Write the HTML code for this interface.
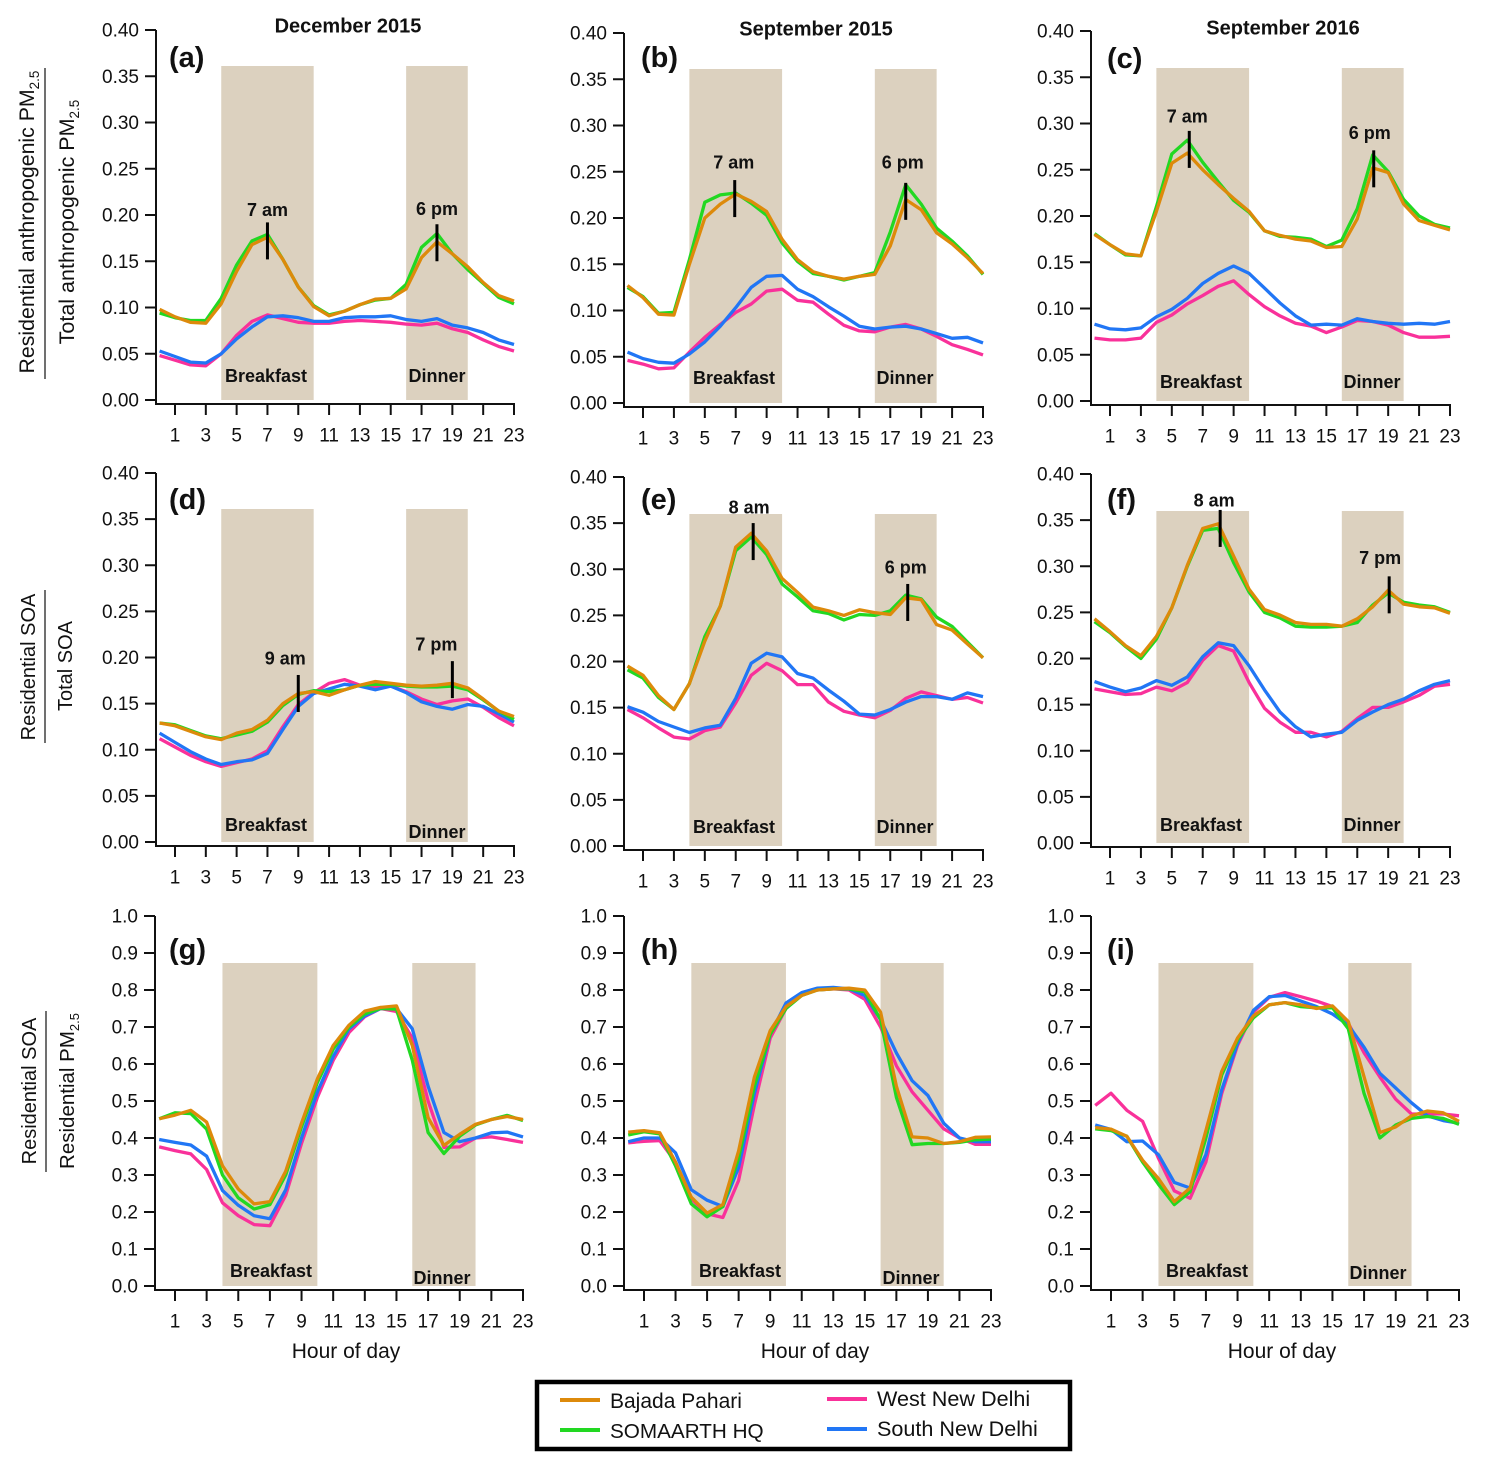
<!DOCTYPE html>
<html lang="en">
<head>
<meta charset="utf-8">
<title>Diurnal residential PM2.5 and SOA fractions, Delhi</title>
<style>
html,body{margin:0;padding:0;background:#fff;}
#chart{display:block;width:1487px;height:1470px;font-family:"Liberation Sans",sans-serif;fill:#111;}
</style>
</head>
<body>
<svg id="chart" xmlns="http://www.w3.org/2000/svg" width="1487" height="1470" viewBox="0 0 1487 1470">
  <g>
    <text transform="translate(34,222) rotate(-90)" text-anchor="middle" font-size="21.3">Residential anthropogenic PM<tspan font-size="13.5" dy="5">2.5</tspan></text>
    <line x1="45" x2="45" y1="68" y2="379" stroke="#111" stroke-width="1.2"/>
    <text transform="translate(74,222) rotate(-90)" text-anchor="middle" font-size="21.5">Total anthropogenic PM<tspan font-size="13.5" dy="5">2.5</tspan></text>
  </g>
  <g>
    <text transform="translate(35,667) rotate(-90)" text-anchor="middle" font-size="20">Residential SOA</text>
    <line x1="45" x2="45" y1="590" y2="743" stroke="#111" stroke-width="1.2"/>
    <text transform="translate(72,666) rotate(-90)" text-anchor="middle" font-size="20">Total SOA</text>
  </g>
  <g>
    <text transform="translate(36,1091) rotate(-90)" text-anchor="middle" font-size="20">Residential SOA</text>
    <line x1="46" x2="46" y1="1011" y2="1172" stroke="#111" stroke-width="1.2"/>
    <text transform="translate(74,1091) rotate(-90)" text-anchor="middle" font-size="20.5">Residential PM<tspan font-size="13" dy="5">2.5</tspan></text>
  </g>
  <text x="348" y="32.5" text-anchor="middle" font-size="20" font-weight="bold">December 2015</text>
  <text x="816" y="35.5" text-anchor="middle" font-size="20" font-weight="bold">September 2015</text>
  <text x="1283" y="34.5" text-anchor="middle" font-size="20" font-weight="bold">September 2016</text>
  <text x="346" y="1358" text-anchor="middle" font-size="21">Hour of day</text>
  <text x="815" y="1358" text-anchor="middle" font-size="21">Hour of day</text>
  <text x="1282" y="1358" text-anchor="middle" font-size="21">Hour of day</text>
  <g>
    <rect x="537" y="1382" width="533" height="67" fill="#fff" stroke="#000" stroke-width="4.5"/>
    <line x1="560" x2="600" y1="1400" y2="1400" stroke="#DD8A0B" stroke-width="4"/>
    <text x="610" y="1408" font-size="21">Bajada Pahari</text>
    <line x1="560" x2="600" y1="1430" y2="1430" stroke="#22D822" stroke-width="4"/>
    <text x="610" y="1438" font-size="20.7">SOMAARTH HQ</text>
    <line x1="827" x2="867" y1="1399" y2="1399" stroke="#F9319A" stroke-width="4"/>
    <text x="877" y="1406" font-size="21.6">West New Delhi</text>
    <line x1="827" x2="867" y1="1429" y2="1429" stroke="#2176F5" stroke-width="4"/>
    <text x="877" y="1436" font-size="21.6">South New Delhi</text>
  </g>
  <g id="panels"></g>
</svg>
<script>
// Shared axis data
const hours = [0,1,2,3,4,5,6,7,8,9,10,11,12,13,14,15,16,17,18,19,20,21,22,23];
const xTickHours = [1,3,5,7,9,11,13,15,17,19,21,23];
const fractionTicks = ['0.00','0.05','0.10','0.15','0.20','0.25','0.30','0.35','0.40'];
const ratioTicks = ['0.0','0.1','0.2','0.3','0.4','0.5','0.6','0.7','0.8','0.9','1.0'];
const breakfastWindow = [4,10];
const dinnerWindow = [16,20];

// Panel (a)
const aBajada = [.098,.090,.084,.083,.104,.139,.168,.176,.152,.122,.101,.091,.096,.103,.109,.110,.120,.154,.171,.158,.144,.127,.113,.107];
const aSomaarth = [.094,.089,.086,.086,.110,.146,.172,.179,.152,.122,.102,.092,.096,.103,.108,.110,.125,.165,.180,.158,.141,.126,.111,.104];
const aWest = [.048,.043,.038,.037,.050,.070,.085,.092,.088,.084,.083,.083,.085,.086,.085,.084,.082,.081,.083,.077,.073,.065,.058,.053];
const aSouth = [.053,.047,.041,.040,.050,.066,.079,.090,.091,.089,.085,.085,.089,.090,.090,.091,.087,.085,.088,.081,.078,.073,.065,.060];
// Panel (b)
const bBajada = [.127,.114,.096,.095,.150,.200,.215,.226,.218,.207,.177,.155,.142,.137,.134,.137,.139,.170,.220,.209,.184,.172,.157,.140];
const bSomaarth = [.125,.115,.097,.098,.155,.217,.225,.227,.216,.203,.173,.153,.140,.137,.133,.137,.141,.185,.236,.215,.189,.175,.159,.139];
const bWest = [.046,.042,.037,.038,.055,.071,.085,.098,.107,.121,.123,.111,.109,.096,.084,.078,.077,.082,.085,.080,.072,.063,.058,.052];
const bSouth = [.055,.048,.044,.043,.053,.066,.083,.103,.125,.137,.138,.123,.115,.104,.094,.083,.080,.082,.083,.080,.075,.070,.071,.065];
// Panel (c)
const cBajada = [.180,.169,.159,.157,.205,.257,.268,.250,.234,.219,.205,.184,.179,.175,.173,.166,.167,.197,.252,.247,.213,.195,.190,.185];
const cSomaarth = [.181,.169,.158,.157,.210,.267,.282,.258,.237,.217,.204,.184,.178,.177,.175,.167,.174,.208,.266,.248,.218,.200,.191,.187];
const cWest = [.068,.066,.066,.068,.085,.093,.105,.114,.124,.130,.115,.102,.092,.084,.081,.074,.080,.087,.086,.082,.074,.069,.069,.070];
const cSouth = [.083,.078,.077,.079,.091,.099,.111,.127,.138,.146,.138,.122,.106,.092,.082,.083,.082,.089,.086,.084,.083,.084,.083,.086];
// Panel (d)
const dBajada = [.129,.126,.120,.114,.111,.118,.122,.132,.150,.161,.163,.159,.165,.170,.174,.172,.170,.169,.170,.172,.167,.155,.142,.136];
const dSomaarth = [.129,.127,.121,.115,.112,.116,.120,.130,.148,.160,.164,.163,.165,.170,.171,.171,.169,.168,.168,.169,.165,.154,.142,.133];
const dWest = [.112,.103,.094,.087,.082,.086,.090,.099,.125,.149,.162,.172,.176,.170,.168,.169,.163,.155,.149,.153,.155,.146,.135,.126];
const dSouth = [.118,.108,.098,.090,.084,.087,.089,.096,.122,.147,.161,.166,.171,.169,.165,.169,.162,.152,.147,.144,.149,.147,.139,.130];
// Panel (e)
const eBajada = [.195,.185,.163,.148,.176,.222,.260,.324,.339,.320,.290,.275,.259,.255,.250,.256,.253,.251,.269,.267,.240,.234,.219,.204];
const eSomaarth = [.191,.182,.161,.148,.176,.227,.260,.320,.335,.316,.284,.270,.255,.252,.245,.251,.250,.255,.272,.268,.248,.238,.221,.204];
const eWest = [.148,.139,.128,.118,.116,.125,.129,.155,.185,.198,.190,.175,.175,.156,.146,.142,.139,.147,.160,.167,.163,.159,.161,.155];
const eSouth = [.151,.145,.135,.129,.123,.128,.131,.160,.198,.209,.205,.187,.182,.169,.157,.143,.142,.148,.156,.162,.162,.159,.166,.162];
// Panel (f)
const fBajada = [.243,.229,.214,.203,.224,.255,.301,.341,.346,.311,.275,.253,.247,.239,.237,.237,.235,.243,.256,.274,.259,.256,.255,.249];
const fSomaarth = [.240,.228,.213,.200,.221,.255,.300,.339,.341,.304,.272,.250,.244,.235,.234,.234,.235,.239,.258,.271,.261,.258,.256,.250];
const fWest = [.167,.164,.161,.162,.169,.165,.174,.198,.214,.208,.174,.146,.131,.120,.120,.115,.121,.135,.147,.147,.153,.160,.170,.172];
const fSouth = [.175,.169,.164,.168,.176,.171,.180,.202,.217,.214,.192,.166,.142,.126,.115,.118,.120,.133,.142,.150,.156,.165,.172,.176];
// Panel (g)
const gBajada = [.452,.462,.475,.443,.325,.262,.222,.228,.310,.440,.560,.650,.705,.743,.753,.757,.650,.455,.380,.410,.437,.450,.458,.450];
const gSomaarth = [.452,.468,.466,.424,.300,.238,.208,.220,.300,.430,.550,.640,.700,.735,.750,.748,.610,.415,.358,.405,.435,.450,.461,.447];
const gWest = [.376,.366,.357,.315,.225,.190,.166,.163,.245,.385,.510,.610,.685,.728,.750,.742,.670,.500,.375,.376,.400,.403,.396,.388];
const gSouth = [.396,.388,.381,.351,.258,.218,.190,.182,.260,.400,.525,.620,.695,.730,.750,.750,.695,.540,.415,.390,.400,.414,.416,.403];
// Panel (h)
const hBajada = [.416,.420,.414,.335,.240,.197,.220,.365,.565,.690,.755,.785,.800,.803,.805,.800,.740,.540,.403,.400,.385,.390,.402,.403];
const hSomaarth = [.408,.417,.411,.325,.222,.187,.215,.345,.540,.680,.750,.785,.800,.803,.803,.795,.720,.510,.382,.385,.385,.388,.395,.397];
const hWest = [.387,.391,.393,.335,.235,.195,.185,.285,.490,.670,.750,.790,.800,.803,.800,.775,.700,.595,.525,.475,.425,.400,.383,.383];
const hSouth = [.390,.400,.400,.360,.260,.232,.215,.320,.520,.680,.765,.793,.805,.807,.803,.785,.720,.630,.555,.515,.440,.400,.390,.390];
// Panel (i)
const iBajada = [.428,.424,.405,.340,.290,.228,.265,.420,.580,.670,.730,.760,.766,.760,.750,.757,.715,.565,.415,.430,.460,.473,.468,.445];
const iSomaarth = [.425,.420,.405,.335,.275,.220,.255,.400,.570,.665,.725,.760,.766,.755,.752,.752,.695,.520,.400,.435,.453,.458,.453,.437];
const iWest = [.488,.521,.475,.445,.345,.257,.237,.335,.520,.650,.740,.780,.793,.782,.770,.755,.710,.630,.565,.505,.465,.465,.465,.460];
const iSouth = [.435,.423,.390,.392,.355,.280,.265,.355,.530,.655,.745,.782,.785,.770,.755,.735,.705,.645,.575,.535,.495,.460,.447,.440];

// Peak annotations: hour, value at the middle of the marker, printed text
const aPeakHours = [7,18];
const aPeakValues = [.172,.170];
const aPeakTexts = ['7 am','6 pm'];
const bPeakHours = [7,18];
const bPeakValues = [.221,.218];
const bPeakTexts = ['7 am','6 pm'];
const cPeakHours = [6,18];
const cPeakValues = [.272,.251];
const cPeakTexts = ['7 am','6 pm'];
const dPeakHours = [9,19];
const dPeakValues = [.161,.176];
const dPeakTexts = ['9 am','7 pm'];
const ePeakHours = [8,18];
const ePeakValues = [.330,.264];
const ePeakTexts = ['8 am','6 pm'];
const fPeakHours = [8,19];
const fPeakValues = [.341,.269];
const fPeakTexts = ['8 am','7 pm'];

const seriesStyles = [
  {key:'west', slug:'west-new-delhi', color:'#F9319A'},
  {key:'south', slug:'south-new-delhi', color:'#2176F5'},
  {key:'somaarth', slug:'somaarth-hq', color:'#22D822'},
  {key:'bajada', slug:'bajada-pahari', color:'#DD8A0B'}
];

// Panel layout: pixel geometry of each axes frame
const panels = [
 {id:'a',x1:175,x23:514,left:156,yTop:30,yZero:400,yMax:.4,ticks:fractionTicks,axisY:404,labelY:441.5,shadeTop:66,lx:169,ly:67,bx:266,by:382,dx:437,dy:382,mdx:[0,0],tdx:[0,0],tdy:[-25,-28],west:aWest,south:aSouth,somaarth:aSomaarth,bajada:aBajada,ph:aPeakHours,pv:aPeakValues,pt:aPeakTexts},
 {id:'b',x1:643,x23:983,left:624,yTop:33,yZero:403,yMax:.4,ticks:fractionTicks,axisY:407,labelY:444.5,shadeTop:69,lx:641,ly:67,bx:734,by:384,dx:905,dy:384,mdx:[-1,0],tdx:[-2,-3],tdy:[-30,-33],west:bWest,south:bSouth,somaarth:bSomaarth,bajada:bBajada,ph:bPeakHours,pv:bPeakValues,pt:bPeakTexts},
 {id:'c',x1:1110,x23:1450,left:1091,yTop:31,yZero:401,yMax:.4,ticks:fractionTicks,axisY:405,labelY:442.5,shadeTop:68,lx:1107,ly:68,bx:1201,by:388,dx:1372,dy:388,mdx:[2,1],tdx:[0,-3],tdy:[-27,-30],west:cWest,south:cSouth,somaarth:cSomaarth,bajada:cBajada,ph:cPeakHours,pv:cPeakValues,pt:cPeakTexts},
 {id:'d',x1:175,x23:514,left:156,yTop:473,yZero:842,yMax:.4,ticks:fractionTicks,axisY:846,labelY:883.5,shadeTop:509,lx:169,ly:509,bx:266,by:831,dx:437,dy:838,mdx:[0,0],tdx:[-13,-16],tdy:[-29,-29],west:dWest,south:dSouth,somaarth:dSomaarth,bajada:dBajada,ph:dPeakHours,pv:dPeakValues,pt:dPeakTexts},
 {id:'e',x1:643,x23:983,left:624,yTop:477,yZero:846,yMax:.4,ticks:fractionTicks,axisY:850,labelY:887.5,shadeTop:514,lx:641,ly:509,bx:734,by:833,dx:905,dy:833,mdx:[2,2],tdx:[-2,0],tdy:[-28,-29],west:eWest,south:eSouth,somaarth:eSomaarth,bajada:eBajada,ph:ePeakHours,pv:ePeakValues,pt:ePeakTexts},
 {id:'f',x1:1110,x23:1450,left:1091,yTop:474,yZero:843,yMax:.4,ticks:fractionTicks,axisY:847,labelY:884.5,shadeTop:511,lx:1107,ly:509,bx:1201,by:831,dx:1372,dy:831,mdx:[2,1],tdx:[-4,-8],tdy:[-22,-31],west:fWest,south:fSouth,somaarth:fSomaarth,bajada:fBajada,ph:fPeakHours,pv:fPeakValues,pt:fPeakTexts},
 {id:'g',x1:175,x23:523,left:155,yTop:916,yZero:1286,yMax:1,ticks:ratioTicks,axisY:1290,labelY:1327.5,shadeTop:963,lx:169,ly:959,bx:271,by:1277,dx:442,dy:1284,west:gWest,south:gSouth,somaarth:gSomaarth,bajada:gBajada},
 {id:'h',x1:644,x23:991,left:624,yTop:916,yZero:1286,yMax:1,ticks:ratioTicks,axisY:1290,labelY:1327.5,shadeTop:963,lx:641,ly:959,bx:740,by:1277,dx:911,dy:1284,west:hWest,south:hSouth,somaarth:hSomaarth,bajada:hBajada},
 {id:'i',x1:1111,x23:1459,left:1091,yTop:916,yZero:1286,yMax:1,ticks:ratioTicks,axisY:1290,labelY:1327.5,shadeTop:963,lx:1107,ly:959,bx:1207,by:1277,dx:1378,dy:1279,west:iWest,south:iSouth,somaarth:iSomaarth,bajada:iBajada}
];

const NS = 'http://www.w3.org/2000/svg';
function make(tag, attrs, parent, txt){
  const n = document.createElementNS(NS, tag);
  for (const k in attrs) n.setAttribute(k, attrs[k]);
  if (txt !== undefined) n.textContent = txt;
  parent.appendChild(n);
  return n;
}

const root = document.getElementById('panels');
panels.forEach(function(p){
  const xScale = function(h){ return p.x1 + (h - 1) * (p.x23 - p.x1) / 22; };
  const yScale = function(v){ return p.yZero - v / p.yMax * (p.yZero - p.yTop); };

  const g = make('g', {}, root);
  
  

  // meal-time bands
  const bf = make('rect', {x:xScale(breakfastWindow[0]), y:p.shadeTop, width:xScale(breakfastWindow[1]) - xScale(breakfastWindow[0]), height:p.yZero - p.shadeTop, fill:'#DCD1BF'}, g);
  
  
  const dn = make('rect', {x:xScale(dinnerWindow[0]), y:p.shadeTop, width:xScale(dinnerWindow[1]) - xScale(dinnerWindow[0]), height:p.yZero - p.shadeTop, fill:'#DCD1BF'}, g);
  
  

  // axes
  const yAxis = make('line', {x1:p.left, x2:p.left, y1:p.yTop, y2:p.axisY + 1, stroke:'#111', 'stroke-width':2}, g);
  
  
  const xAxis = make('line', {x1:p.left, x2:p.x23 + 1, y1:p.axisY, y2:p.axisY, stroke:'#111', 'stroke-width':2}, g);
  
  

  p.ticks.forEach(function(label){
    const y = yScale(parseFloat(label));
    const t = make('line', {x1:p.left - 11, x2:p.left, y1:y, y2:y, stroke:'#111', 'stroke-width':2}, g);
    
    
    const l = make('text', {x:p.left - 17, y:y + 6.5, 'text-anchor':'end', 'font-size':19}, g, label);
    
    
  });
  xTickHours.forEach(function(h){
    const x = xScale(h);
    const t = make('line', {x1:x, x2:x, y1:p.axisY, y2:p.axisY + 11, stroke:'#111', 'stroke-width':2}, g);
    
    
    const l = make('text', {x:x, y:p.labelY, 'text-anchor':'middle', 'font-size':19}, g, String(h));
    
    
  });

  // series, back to front
  seriesStyles.forEach(function(s){
    const values = p[s.key];
    const pts = hours.map(function(h, i){ return xScale(h).toFixed(1) + ',' + yScale(values[i]).toFixed(1); }).join(' ');
    const line = make('polyline', {points:pts, fill:'none', stroke:s.color, 'stroke-width':3.3, 'stroke-linejoin':'round'}, g);
    
    
  });

  // peak markers
  if (p.ph) {
    p.ph.forEach(function(h, i){
      const x = xScale(h), y = yScale(p.pv[i]);
      const m = make('line', {x1:x + p.mdx[i], x2:x + p.mdx[i], y1:y - 18.5, y2:y + 18.5, stroke:'#000', 'stroke-width':3}, g);
      
      
      const a = make('text', {x:x + p.tdx[i], y:y + p.tdy[i], 'text-anchor':'middle', 'font-size':18, 'font-weight':'bold'}, g, p.pt[i]);
      
      
    });
  }

  const lb = make('text', {x:p.lx, y:p.ly, 'font-size':29, 'font-weight':'bold'}, g, '(' + p.id + ')');
  
  
  const bt = make('text', {x:p.bx, y:p.by, 'text-anchor':'middle', 'font-size':18, 'font-weight':'bold'}, g, 'Breakfast');
  
  
  const dt = make('text', {x:p.dx, y:p.dy, 'text-anchor':'middle', 'font-size':18, 'font-weight':'bold'}, g, 'Dinner');
  
  
});
</script>
</body>
</html>
